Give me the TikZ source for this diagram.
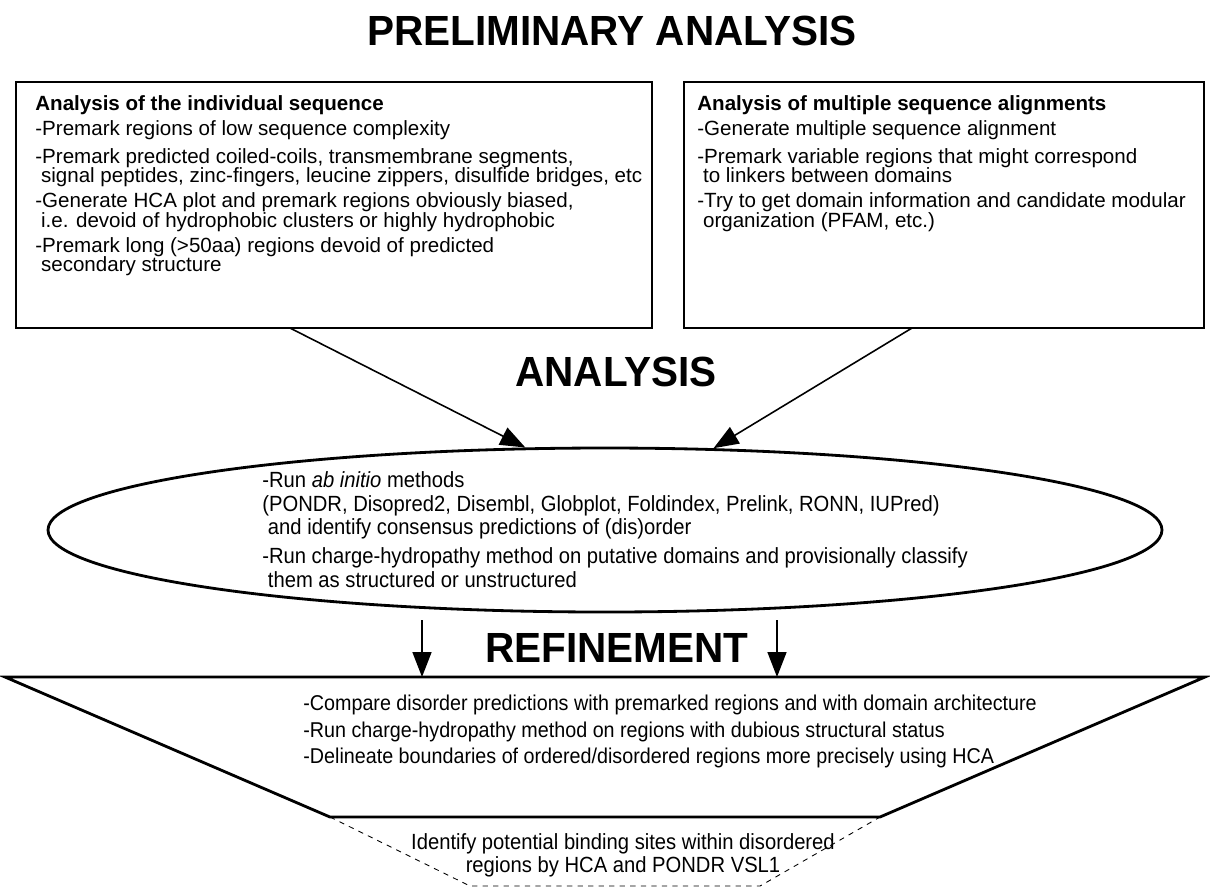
\documentclass[tikz,border=0pt]{standalone}
\usepackage{fontspec}
\setmainfont{Liberation Sans}
\newfontfamily\narrowsans[FakeStretch=0.92]{Liberation Sans}
\newfontfamily\headsans[FakeStretch=0.96]{Liberation Sans}
\newcommand\tightlines{\setlength{\lineskiplimit}{-20pt}}
\usetikzlibrary{shapes.geometric,arrows.meta}
\tikzset{
  frame/.style={draw, line width=1.6pt},
  stage/.style={font=\headsans\bfseries\fontsize{24}{28}\selectfont, inner sep=0pt},
  steps/.style={align=left, anchor=north west, inner sep=0pt,
    font=\fontsize{11.7}{11}\selectfont\tightlines},
  runsteps/.style={steps, font=\narrowsans\fontsize{12.5}{13.5}\selectfont\tightlines},
  feed/.style={line width=0.9pt, -{Triangle[length=5mm, width=3.8mm]}},
  hint/.style={draw, dashed, line width=0.5pt}
}

\begin{document}
\begin{tikzpicture}[x=0.2mm, y=-0.2mm]
  \useasboundingbox (0,0) rectangle (1210,888);

  % Stage headings
  \node[stage] (prelim) at (612,31) {PRELIMINARY ANALYSIS};
  \node[stage] (analysis) at (616,372) {ANALYSIS};
  \node[stage] (refine) at (617,648) {REFINEMENT};

  % Preliminary analysis boxes
  \node[frame, minimum width=127.2mm, minimum height=49.2mm] (indiv) at (334,205) {};
  \node[frame, minimum width=104mm, minimum height=49.2mm] (multi) at (944,205) {};

  \node[steps] (indivtxt) at (35,95) {\textbf{Analysis of the individual sequence}\\[3.3pt]
    -Premark regions of low sequence complexity\\[5pt]
    -Premark predicted coiled-coils, transmembrane segments,\\
    \ signal peptides, zinc-fingers, leucine zippers, disulfide bridges, etc\\[3.3pt]
    -Generate HCA plot and premark regions obviously biased,\\
    \ i.e. devoid of hydrophobic clusters or highly hydrophobic\\[3.3pt]
    -Premark long (>50aa) regions devoid of predicted\\
    \ secondary structure};

  \node[steps] (multitxt) at (697,95) {\textbf{Analysis of multiple sequence alignments}\\[3.3pt]
    -Generate multiple sequence alignment\\[5pt]
    -Premark variable regions that might correspond\\
    \ to linkers between domains\\[3.3pt]
    -Try to get domain information and candidate modular\\
    \ organization (PFAM, etc.)};

  % Analysis ellipse
  \node[frame, ellipse, minimum width=222.8mm, minimum height=32.8mm] (run) at (605,530) {};
  \node[runsteps] (runtxt) at (262,471) {-Run \textit{ab initio} methods\\
    (PONDR, Disopred2, Disembl, Globplot, Foldindex, Prelink, RONN, IUPred)\\
    \ and identify consensus predictions of (dis)order\\[3pt]
    -Run charge-hydropathy method on putative domains and provisionally classify\\
    \ them as structured or unstructured};

  \coordinate (fromindiv) at (290,328);
  \coordinate (frommulti) at (912,328);
  \draw[feed] (fromindiv) -- (run.134);
  \draw[feed] (frommulti) -- (run.37);

  % Refinement funnel
  \coordinate (tl) at (5,677);
  \coordinate (tr) at (1205,677);
  \coordinate (br) at (880,817);
  \coordinate (bl) at (330,817);
  \draw[frame, line join=miter] (tl) -- (tr) -- (br) -- (bl) -- cycle;

  \coordinate (downL) at (422,620);
  \coordinate (downR) at (777,620);
  \draw[feed] (downL) -- (downL |- tl);
  \draw[feed] (downR) -- (downR |- tl);

  \node[runsteps, font=\narrowsans\fontsize{12.2}{12.2}\selectfont\tightlines] (refinetxt) at (303,695) {-Compare disorder predictions with premarked regions and with domain architecture\\[2.8pt]
    -Run charge-hydropathy method on regions with dubious structural status\\[2.8pt]
    -Delineate boundaries of ordered/disordered regions more precisely using HCA};

  % Binding sites
  \coordinate (dl) at (470,886);
  \coordinate (dr) at (760,886);
  \draw[hint] (bl) -- (dl) -- (dr) -- (br);
  \node[runsteps, font=\narrowsans\fontsize{12.5}{13}\selectfont\tightlines, align=center, anchor=center] (bindtxt) at (623,855) {Identify potential binding sites within disordered\\
    regions by HCA and PONDR VSL1};
\end{tikzpicture}
\end{document}
